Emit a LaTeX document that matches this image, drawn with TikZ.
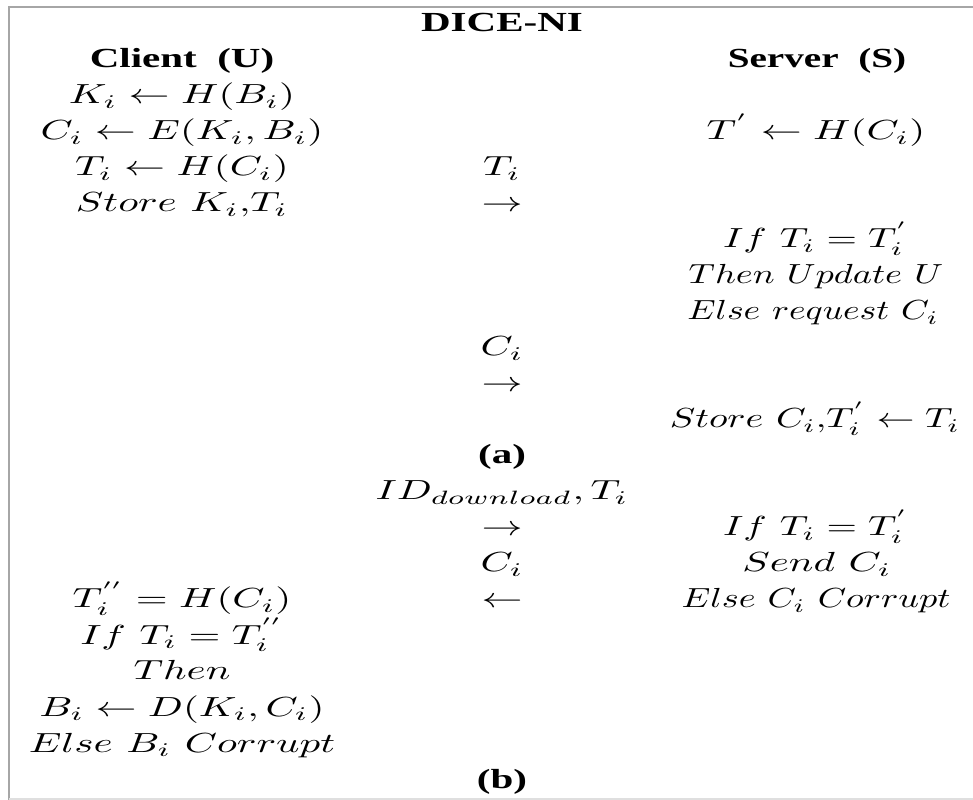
\documentclass[tikz,border=0pt]{standalone}
\usepackage{fontspec}
\newfontfamily\tnr{Liberation Serif}
\newcommand\sq[1]{\scalebox{1.025}[0.69]{#1}}
\newcommand\sqx[2]{\scalebox{#1}[0.69]{#2}}
\tikzset{
  lbl/.style={inner sep=0pt, outer sep=0pt, anchor=base},
  hdr/.style={lbl, font=\tnr\bfseries},
  frame/.style={draw=gray!70, line width=0.7pt}
}
\begin{document}
\begin{tikzpicture}[x=0.25pt, y=-0.25pt]
\useasboundingbox (0,0) rectangle (973,800);
\draw[frame] (9,800) -- (9,7) -- (973,7);
\draw[draw=gray!25, line width=0.4pt] (9,799) -- (973,799);
% columns: left 182, middle 502, right 817 ; baselines 32+36n
\node[hdr] (title) at (502,32) {\sq{DICE-NI}};
\node[hdr] (client) at (182,68) {\sq{Client\ \ (U)}};
\node[hdr] (server) at (817,68) {\sqx{0.98}{Server\ \ (S)}};
\node[lbl] (l1) at (182,104) {\sq{$K_i \leftarrow H(B_i)$}};
\node[lbl] (l2) at (182,140) {\sq{$C_i \leftarrow E(K_i,B_i)$}};
\node[lbl] (r2) at (816,140) {\sq{$T^{'} \leftarrow H(C_i)$}};
\node[lbl] (l3) at (182,176) {\sq{$T_i \leftarrow H(C_i)$}};
\node[lbl] (m3) at (502,176) {\sq{$T_i$}};
\node[lbl] (l4) at (182,212) {\sq{$Store\ K_i{,}T_i$}};
\node[lbl] (m4) at (502,212) {\sq{$\rightarrow$}};
\node[lbl] (r5) at (816,248) {\sqx{0.98}{$If\ T_i = T_i^{'}$}};
\node[lbl] (r6) at (816,284) {\sqx{0.91}{$Then\ Update\ U$}};
\node[lbl] (r7) at (813,320) {\sqx{0.89}{$Else\ request\ C_i$}};
\node[lbl] (m8) at (502,356) {\sq{$C_i$}};
\node[lbl] (m9) at (502,392) {\sq{$\rightarrow$}};
\node[lbl] (r10) at (815,428) {\sqx{0.95}{$Store\ C_i{,}T_i^{'} \leftarrow T_i$}};
\node[hdr] (a) at (502,464) {\sq{(a)}};
\node[lbl] (m12) at (502,500) {\sq{$ID_{download},T_i$}};
\node[lbl] (m13) at (502,536) {\sq{$\rightarrow$}};
\node[lbl] (r13) at (816,536) {\sqx{0.98}{$If\ T_i = T_i^{'}$}};
\node[lbl] (m14) at (502,572) {\sq{$C_i$}};
\node[lbl] (r14) at (817,572) {\sq{$Send\ C_i$}};
\node[lbl] (l15) at (182,608) {\sq{$T_i^{''} = H(C_i)$}};
\node[lbl] (m15) at (502,608) {\sq{$\leftarrow$}};
\node[lbl] (r15) at (816,608) {\sqx{0.905}{$Else\ C_i\ Corrupt$}};
\node[lbl] (l16) at (182,644) {\sq{$If\ T_i = T_i^{''}$}};
\node[lbl] (l17) at (182,680) {\sq{$Then$}};
\node[lbl] (l18) at (182,716) {\sq{$B_i \leftarrow D(K_i,C_i)$}};
\node[lbl] (l19) at (182,752) {\sq{$Else\ B_i\ Corrupt$}};
\node[hdr] (b) at (502,788) {\sq{(b)}};
\end{tikzpicture}
\end{document}
